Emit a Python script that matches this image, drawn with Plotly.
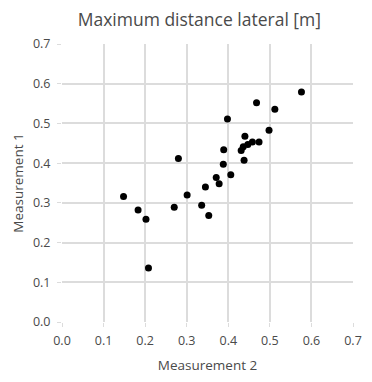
import plotly.graph_objects as go

# Paired lateral distance readings [m]
measurement_2 = [0.148, 0.183, 0.202, 0.208, 0.270, 0.280, 0.301, 0.336, 0.345,
                 0.353, 0.371, 0.378, 0.388, 0.389, 0.398, 0.406, 0.431, 0.436,
                 0.438, 0.440, 0.447, 0.458, 0.468, 0.474, 0.498, 0.512, 0.576]
measurement_1 = [0.316, 0.282, 0.259, 0.136, 0.289, 0.412, 0.320, 0.294, 0.340,
                 0.268, 0.364, 0.348, 0.397, 0.434, 0.511, 0.371, 0.432, 0.441,
                 0.407, 0.468, 0.447, 0.453, 0.552, 0.453, 0.483, 0.536, 0.579]

tick_vals = [0.0, 0.1, 0.2, 0.3, 0.4, 0.5, 0.6, 0.7]
tick_text = ["0.0", "0.1", "0.2", "0.3", "0.4", "0.5", "0.6", "0.7"]

grid = "#dcdcdc"
text_col = "#4a4a4a"
font_family = "Open Sans, Liberation Sans, sans-serif"

fig = go.Figure(
    go.Scatter(
        x=measurement_2,
        y=measurement_1,
        mode="markers",
        marker=dict(color="black", size=7),
        hoverinfo="x+y",
    )
)

axis_common = dict(
    range=[0, 0.7],
    tickvals=tick_vals,
    ticktext=tick_text,
    showgrid=True,
    gridcolor=grid,
    gridwidth=1.5,
    zeroline=False,
    showline=False,
    ticks="outside",
    ticklen=4,
    tickcolor=grid,
    tickfont=dict(size=12.5, color=text_col, family=font_family),
    fixedrange=True,
)

fig.update_xaxes(
    **axis_common,
    ticklabelstandoff=3,
    title=dict(text="Measurement 2", font=dict(size=13.5, color=text_col, family=font_family), standoff=12),
)
fig.update_yaxes(
    **axis_common,
    ticklabelstandoff=4,
    title=dict(text="Measurement 1", font=dict(size=13.5, color=text_col, family=font_family), standoff=6),
)

fig.update_layout(
    width=372,
    height=382,
    margin=dict(l=62, r=10, t=44, b=60),
    paper_bgcolor="white",
    plot_bgcolor="white",
    showlegend=False,
    title=dict(
        text="Maximum distance lateral [m]",
        x=0.472,
        xref="paper",
        xanchor="center",
        y=1 - 20 / 382,
        yanchor="middle",
        font=dict(size=17.5, color=text_col, family=font_family),
    ),
)

fig.write_html("out.html")
